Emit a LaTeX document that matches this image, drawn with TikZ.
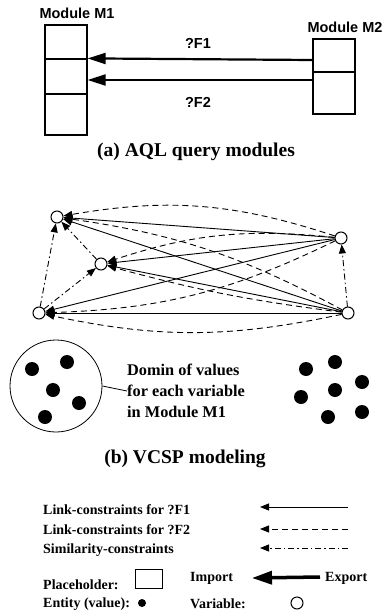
\documentclass[tikz,border=0pt]{standalone}
\usepackage{fontspec}
\setmainfont{Liberation Serif}
\newfontfamily\modfont{Liberation Sans}
\usetikzlibrary{positioning, arrows.meta}

\begin{document}
\begin{tikzpicture}[x=1pt, y=-1pt]
  \tikzstyle{coord}=[inner sep=0pt, outer sep=0pt]
  \tikzstyle{cell}=[draw, line width=1.2pt, minimum width=42pt, inner sep=0pt]
  \tikzstyle{var}=[draw, circle, line width=1pt, minimum size=12pt, inner sep=0pt, fill=white]
  \tikzstyle{val}=[circle, fill=black, minimum size=14pt, inner sep=0pt]
  \tikzstyle{modlabel}=[font=\modfont\bfseries\fontsize{14.5}{16}\selectfont]
  \tikzstyle{caption}=[font=\bfseries\fontsize{19.5}{22}\selectfont]
  \tikzstyle{legend}=[font=\bfseries\fontsize{14}{16}\selectfont, anchor=west, inner sep=0pt]
  \tikzstyle{bigarrow}=[line width=2.2pt, -{Triangle[length=18pt, width=11pt]}]
  \tikzstyle{f1}=[line width=0.9pt, -{Triangle[length=9pt, width=7pt]}]
  \tikzstyle{f2}=[f1, dash pattern=on 6pt off 4pt]
  \tikzstyle{sim}=[f1, dash pattern=on 6pt off 3pt on 1.5pt off 3pt]
  \useasboundingbox (0,0) rectangle (386,616);

  % (a) query modules
  \node (m1a) at (66,42) [cell, minimum height=34pt] {};
  \node (m1b) at (66,76.5) [cell, minimum height=35pt] {};
  \node (m1c) at (66,114.5) [cell, minimum height=41pt] {};
  \node (m2a) at (334,55.5) [cell, minimum height=33pt] {};
  \node (m2b) at (334,93) [cell, minimum height=42pt] {};
  \node (m1lbl) at (77,13) [modlabel] {Module M1};
  \node (m2lbl) at (345,27) [modlabel] {Module M2};
  \draw[bigarrow] (m2a.west |- 0,60) -- (m1b.north east);
  \draw[bigarrow] (m2b.west |- 0,80) -- (m1b.east |- 0,80);
  \node (f1lbl) at (198,43) [modlabel] {?F1};
  \node (f2lbl) at (198,102) [modlabel] {?F2};
  \node (capa) at (196,152) [caption] {(a) AQL query modules};

  % (b) variables
  \node (v1) at (57,217) [var] {};
  \node (v2) at (101,264) [var] {};
  \node (v3) at (39,313) [var] {};
  \node (w1) at (341,238) [var] {};
  \node (w2) at (348,313) [var] {};

  % link constraints ?F1
  \foreach \s in {w1,w2} {
    \foreach \t in {v1,v2,v3} {
      \draw[f1] (\s) -- (\t);
    }
  }
  % link constraints ?F2
  \draw[f2] (w1) to[bend right=14] (v1);
  \draw[f2] (w1) to[bend right=12] (v2);
  \draw[f2] (w1) to[bend left=12] (v3);
  \draw[f2] (w2) to[bend right=10] (v1);
  \draw[f2] (w2) to[bend left=4] (v2);
  \draw[f2] (w2) to[bend left=12] (v3);
  % similarity constraints
  \draw[sim] (v3) -- (v1);
  \draw[sim] (v3) -- (v2);
  \draw[sim] (v2) -- (v1);
  \draw[sim] (w2) -- (w1);

  % domains
  \node (dom) at (56,386) [draw, circle, line width=0.8pt, minimum size=92pt, inner sep=0pt] {};
  \node (d1) at (32,369) [val] {};
  \node (d2) at (67,362) [val] {};
  \node (d3) at (53,390) [val] {};
  \node (d4) at (79,403) [val] {};
  \node (d5) at (45,417) [val] {};
  \node (domtxt) at (127,391) [anchor=west, align=left, inner sep=0pt,
    font=\bfseries\fontsize{16.3}{21}\selectfont] {Domin of values\\for each variable\\in Module M1};
  \draw[line width=0.8pt] (dom.east) -- (domtxt.west);
  \node (e1) at (306,369) [val] {};
  \node (e2) at (335,362) [val] {};
  \node (e3) at (362,382) [val] {};
  \node (e4) at (335,390) [val] {};
  \node (e5) at (301,397) [val] {};
  \node (e6) at (362,412) [val] {};
  \node (e7) at (328,417) [val] {};
  \node (capb) at (185,459) [caption] {(b) VCSP modeling};

  % legend
  \node (lg1) at (43,510) [legend] {Link-constraints for ?F1};
  \node (lg2) at (43,530) [legend] {Link-constraints for ?F2};
  \node (lg3) at (43,550) [legend] {Similarity-constraints};
  \coordinate (a1s) at (348,507);
  \coordinate (a1e) at (260,507);
  \coordinate (a2s) at (348,529);
  \coordinate (a2e) at (260,529);
  \coordinate (a3s) at (348,548);
  \coordinate (a3e) at (260,548);
  \draw[f1] (a1s) -- (a1e);
  \draw[f2] (a2s) -- (a2e);
  \draw[sim] (a3s) -- (a3e);
  \node (lg4) at (43,585) [legend] {Placeholder:};
  \node (phbox) at (148.5,578.5) [draw, line width=1pt, minimum width=27pt, minimum height=19pt, inner sep=0pt] {};
  \node (imp) at (190,578) [legend] {Import};
  \node (exp) at (325,578) [legend] {Export};
  \coordinate (ex) at (320,577);
  \draw[line width=3.5pt, -{Triangle[length=20pt, width=13pt]}] (ex) -- (imp.east -| 252,0);
  \node (lg5) at (43,604) [legend] {Entity (value):};
  \node (ent) at (142,603) [val, minimum size=8pt] {};
  \node (lg6) at (190,604) [legend] {Variable:};
  \node (var) at (297,603) [var] {};
\end{tikzpicture}
\end{document}
